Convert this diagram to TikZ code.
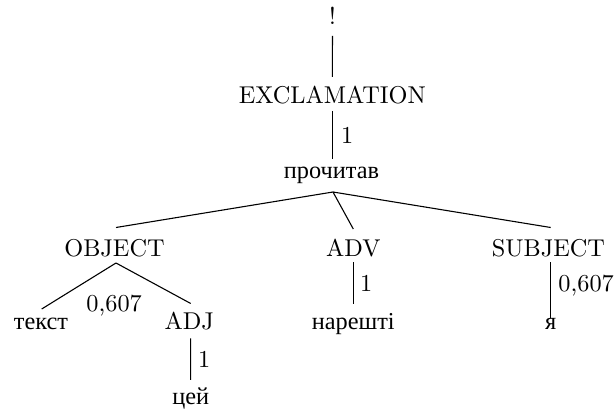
\documentclass[tikz,border=0pt]{standalone}
\usepackage{fontspec}
\newfontfamily\cyrfont{Liberation Serif}
\def\pxu{0.41152pt}
\begin{document}
\begin{tikzpicture}[x=0.41152pt,y=-0.41152pt,
  lat/.style={anchor=base,inner sep=0pt},
  cyr/.style={anchor=base,inner sep=0pt,font=\cyrfont},
  wlbl/.style={anchor=base west,inner sep=0pt},
  link/.style={line width=0.45pt}]
\useasboundingbox (0,0) rectangle (614,409);
% words and categories
\node[lat] (bang) at (332.5,25) {!};
\node[lat] (excl) at (332.3,103.5) {EXCLAMATION};
\node[cyr] (proc) at (331.5,178.5) {прочитав};
\node[lat] (obj) at (114.5,256.5) {OBJECT};
\node[lat] (adv) at (353.3,256.5) {ADV};
\node[lat] (subj) at (548.5,256.5) {SUBJECT};
\node[cyr] (tekst) at (41,330) {текст};
\node[lat] (adj) at (189.3,330) {ADJ};
\node[cyr] (nar) at (353.3,330) {нарешті};
\node[cyr] (ya) at (550.7,330) {я};
\node[cyr] (tsey) at (190.7,405) {цей};
% weights
\node[wlbl] (w1) at (340.6,143.5) {1};
\node[wlbl] (w2) at (86,312) {0,607};
\node[wlbl] (w3) at (359.6,291.5) {1};
\node[wlbl] (w4) at (558,291.7) {0,607};
\node[wlbl] (w5) at (197.6,367.7) {1};
% links
\draw[link] ([yshift=-11*\pxu]bang.base) -- ([yshift=26.5*\pxu]excl.base);
\draw[link] ([yshift=-7.5*\pxu]excl.base) -- ([yshift=19.5*\pxu]excl.base |- proc.base);
\draw[link] ([xshift=1.5*\pxu,yshift=-13.5*\pxu]proc.base) -- ([xshift=1.5*\pxu,yshift=29*\pxu]obj.base);
\draw[link] ([xshift=1.5*\pxu,yshift=-13.5*\pxu]proc.base) -- ([yshift=27.5*\pxu]adv.base);
\draw[link] ([xshift=1.5*\pxu,yshift=-13.5*\pxu]proc.base) -- ([xshift=2.2*\pxu,yshift=29*\pxu]subj.base);
\draw[link] ([xshift=1.5*\pxu,yshift=-6.5*\pxu]obj.base) -- ([xshift=0.7*\pxu,yshift=21*\pxu]tekst.base);
\draw[link] ([xshift=1.5*\pxu,yshift=-6.5*\pxu]obj.base) -- ([xshift=1.4*\pxu,yshift=26.5*\pxu]adj.base);
\draw[link] ([yshift=-5.8*\pxu]adv.base) -- ([yshift=25.7*\pxu]nar.base);
\draw[link] ([yshift=-5.8*\pxu]ya.base |- subj.base) -- ([yshift=12*\pxu]ya.base);
\draw[link] ([xshift=1.4*\pxu,yshift=-8.5*\pxu]adj.base) -- ([yshift=25*\pxu]tsey.base);
\end{tikzpicture}
\end{document}
